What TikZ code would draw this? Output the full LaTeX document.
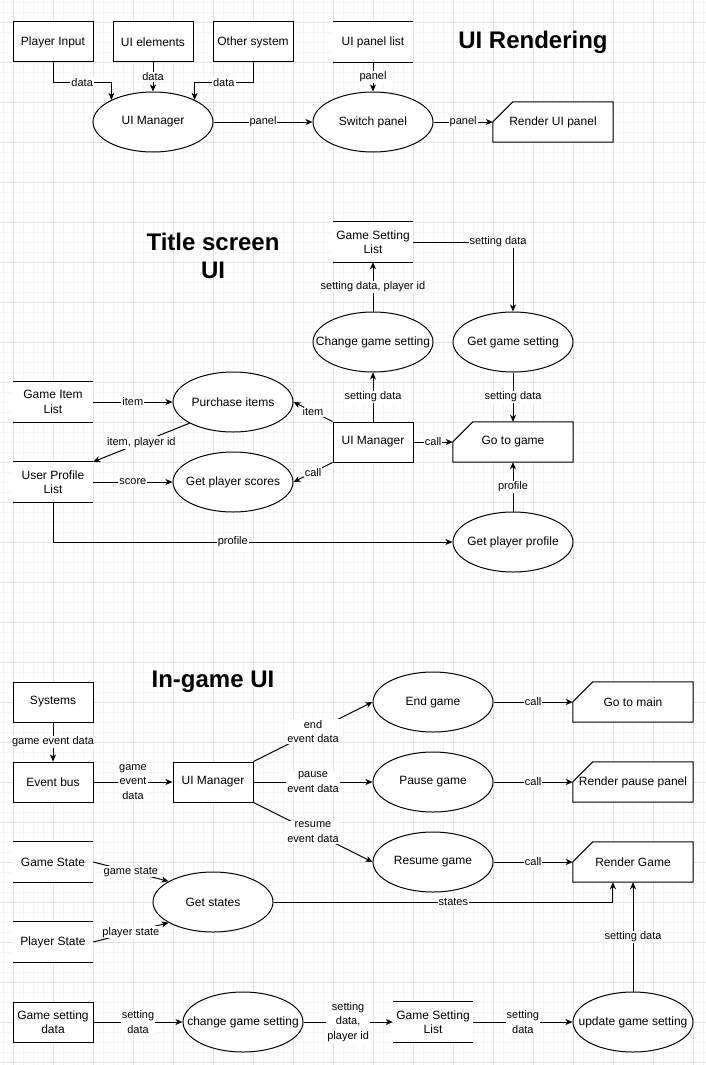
\documentclass[tikz,border=0pt]{standalone}
\usepackage{fontspec}
\setmainfont{Liberation Sans}
\usetikzlibrary{shapes.geometric,arrows.meta,calc,backgrounds}

\definecolor{gridmajor}{RGB}{226,226,226}
\definecolor{gridminor}{RGB}{245,245,245}
\newcommand{\nodefnt}{\fontsize{12}{14.4}\selectfont}
\newcommand{\lblfnt}{\fontsize{11}{14.5}\selectfont}
\newcommand{\ttlfnt}{\fontsize{24}{28}\selectfont\bfseries}

\tikzset{
  proc/.style={draw, ellipse, fill=white, line width=1pt, minimum width=120pt, minimum height=60pt,
    inner xsep=-20pt, inner ysep=-4pt, font=\nodefnt},
  ext/.style={draw, rectangle, fill=white, line width=1pt, minimum width=80pt, minimum height=40pt,
    inner sep=0pt, align=center, font=\nodefnt},
  store/.style={rectangle, fill=white, minimum width=80pt, minimum height=40pt,
    inner sep=0pt, align=center, font=\nodefnt},
  cardbox/.style={rectangle, minimum width=120pt, minimum height=40pt, inner sep=0pt, font=\nodefnt},
  flow/.style={line width=1pt, -{Stealth[length=7pt,width=6pt,inset=2pt]}},
  lbl/.style={fill=white, inner sep=1pt, align=center, font=\lblfnt},
  heading/.style={align=center, font=\ttlfnt},
}

\begin{document}
\begin{tikzpicture}[x=1pt,y=-1pt]
    \useasboundingbox (0,0) rectangle (706,1065);

    % background grid
    \begin{scope}[on background layer]
        \fill[white] (0,0) rectangle (706,1065);
        \foreach \gx in {3,13,...,703} \draw[gridminor, line width=0.6pt] (\gx,0) -- (\gx,1065);
        \foreach \gy in {2,12,...,1062} \draw[gridminor, line width=0.6pt] (0,\gy) -- (706,\gy);
        \foreach \gx in {13,53,...,693} \draw[gridmajor, line width=0.8pt] (\gx,0) -- (\gx,1065);
        \foreach \gy in {22,62,...,1062} \draw[gridmajor, line width=0.8pt] (0,\gy) -- (706,\gy);
    \end{scope}

    % UI Rendering
    \node (TitleRender) [heading] at (533,42) {UI Rendering};
    \node (PlayerIn) [ext] at (53,42) {Player Input};
    \node (UIElem) [ext] at (153,42) {UI elements};
    \node (OtherSys) [ext] at (253,42) {Other system};
    \node (PanelList) [store] at (373,42) {UI panel list};
    \node (UIM1) [proc] at (153,122) {UI Manager};
    \node (Switch) [proc] at (373,122) {Switch panel};
    \node (RenderUI) [cardbox] at (553,122) {Render UI panel};

    \draw[flow] (PlayerIn.south) -- ++(0,20) -| node[lbl, pos=0.25] {data} (UIM1.152);
    \draw[flow] (UIElem.south) -- node[lbl] {data} (UIM1.north);
    \draw[flow] (OtherSys.south) -- ++(0,20) -| node[lbl, pos=0.25] {data} (UIM1.28);
    \draw[flow] (PanelList.south) -- node[lbl] {panel} (Switch.north);
    \draw[flow] (UIM1.east) -- node[lbl] {panel} (Switch.west);
    \draw[flow] (Switch.east) -- node[lbl] {panel} (RenderUI.west);

    % Title screen UI
    \node (TitleScreen) [heading] at (213,256) {Title screen\\UI};
    \node (SetList2) [store] at (373,242) {Game Setting\\List};
    \node (ChgSet) [proc] at (373,342) {Change game setting};
    \node (GetSet) [proc] at (513,342) {Get game setting};
    \node (UIM2) [ext] at (373,442) {UI Manager};
    \node (GoGame) [cardbox] at (513,442) {Go to game};
    \node (ItemList) [store] at (53,402) {Game Item\\List};
    \node (UserProf) [store] at (53,482) {User Profile\\List};
    \node (Purchase) [proc] at (233,402) {Purchase items};
    \node (Scores) [proc] at (233,482) {Get player scores};
    \node (GetProf) [proc] at (513,542) {Get player profile};

    \draw[flow] (SetList2.east) -| node[lbl, pos=0.425] {setting data} (GetSet.north);
    \draw[flow] (ChgSet.north) -- node[lbl] {setting data, player id} (SetList2.south);
    \draw[flow] (UIM2.north) -- node[lbl] {setting data} (ChgSet.south);
    \draw[flow] (GetSet.south) -- node[lbl] {setting data} (GoGame.north);
    \draw[flow] (UIM2.east) -- node[lbl] {call} (GoGame.west);
    \draw[flow] (UIM2.north west) -- node[lbl] {item} (Purchase.east);
    \draw[flow] (UIM2.south west) -- node[lbl] {call} (Scores.east);
    \draw[flow] (ItemList.east) -- node[lbl] {item} (Purchase.west);
    \draw[flow] (Purchase.206) -- node[lbl] {item, player id} (UserProf.north east);
    \draw[flow] (UserProf.east) -- node[lbl] {score} (Scores.west);
    \draw[flow] (UserProf.south) |- node[lbl, pos=0.725] {profile} (GetProf.west);
    \draw[flow] (GetProf.north) -- node[lbl] {profile} (GoGame.south);

    % In-game UI
    \node (TitleGame) [heading] at (213,682) {In-game UI};
    \node (Systems) [ext] at (53,702) {Systems};
    \node (EventBus) [ext] at (53,782) {Event bus};
    \node (UIM3) [ext] at (213,782) {UI Manager};
    \node (EndGame) [proc] at (433,702) {End game};
    \node (Pause) [proc] at (433,782) {Pause game};
    \node (Resume) [proc] at (433,862) {Resume game};
    \node (GoMain) [cardbox] at (633,702) {Go to main};
    \node (RenderPause) [cardbox] at (633,782) {Render pause panel};
    \node (RenderGame) [cardbox] at (633,862) {Render Game};
    \node (GameState) [store] at (53,862) {Game State};
    \node (PlayerState) [store] at (53,942) {Player State};
    \node (GetStates) [proc] at (213,902) {Get states};
    \node (SetData) [ext] at (53,1022) {Game setting\\data};
    \node (ChgSet3) [proc] at (243,1022) {change game setting};
    \node (SetList3) [store] at (433,1022) {Game Setting\\List};
    \node (UpdSet) [proc] at (633,1022) {update game setting};

    \draw[flow] (Systems.south) -- node[lbl] {game event data} (EventBus.north);
    \draw[flow] (EventBus.east) -- node[lbl] {game\\event\\data} (UIM3.west);
    \draw[flow] (UIM3.north east) -- node[lbl] {end\\event data} (EndGame.west);
    \draw[flow] (UIM3.east) -- node[lbl] {pause\\event data} (Pause.west);
    \draw[flow] (UIM3.south east) -- node[lbl] {resume\\event data} (Resume.west);
    \draw[flow] (EndGame.east) -- node[lbl] {call} (GoMain.west);
    \draw[flow] (Pause.east) -- node[lbl] {call} (RenderPause.west);
    \draw[flow] (Resume.east) -- node[lbl] {call} (RenderGame.west);
    \draw[flow] (GameState.east) -- node[lbl] {game state} (GetStates.155);
    \draw[flow] (PlayerState.east) -- node[lbl] {player state} (GetStates.205);
    \coordinate (StatesIn) at ($(RenderGame.south west)!0.3333!(RenderGame.south east)$);
    \draw[flow] (GetStates.east) -| node[lbl, pos=0.265] {states} (StatesIn);
    \draw[flow] (SetData.east) -- node[lbl] {setting\\data} (ChgSet3.west);
    \draw[flow] (ChgSet3.east) -- node[lbl] {setting\\data,\\player id} (SetList3.west);
    \draw[flow] (SetList3.east) -- node[lbl] {setting\\data} (UpdSet.west);
    \draw[flow] (UpdSet.north) -- node[lbl] {setting data} (RenderGame.south);

    % open stores: top and bottom rules only
    \foreach \s in {PanelList,SetList2,ItemList,UserProf,GameState,PlayerState,SetList3}
        \draw[line width=1pt] (\s.north west) -- (\s.north east) (\s.south west) -- (\s.south east);

    % cards with a cut corner
    \begin{scope}[on background layer]
        \foreach \c in {RenderUI,GoGame,GoMain,RenderPause,RenderGame}
            \filldraw[fill=white, line width=1pt] ($(\c.north west)+(20,0)$) -- (\c.north east)
                -- (\c.south east) -- (\c.south west) -- ($(\c.north west)+(0,20)$) -- cycle;
    \end{scope}
\end{tikzpicture}
\end{document}
